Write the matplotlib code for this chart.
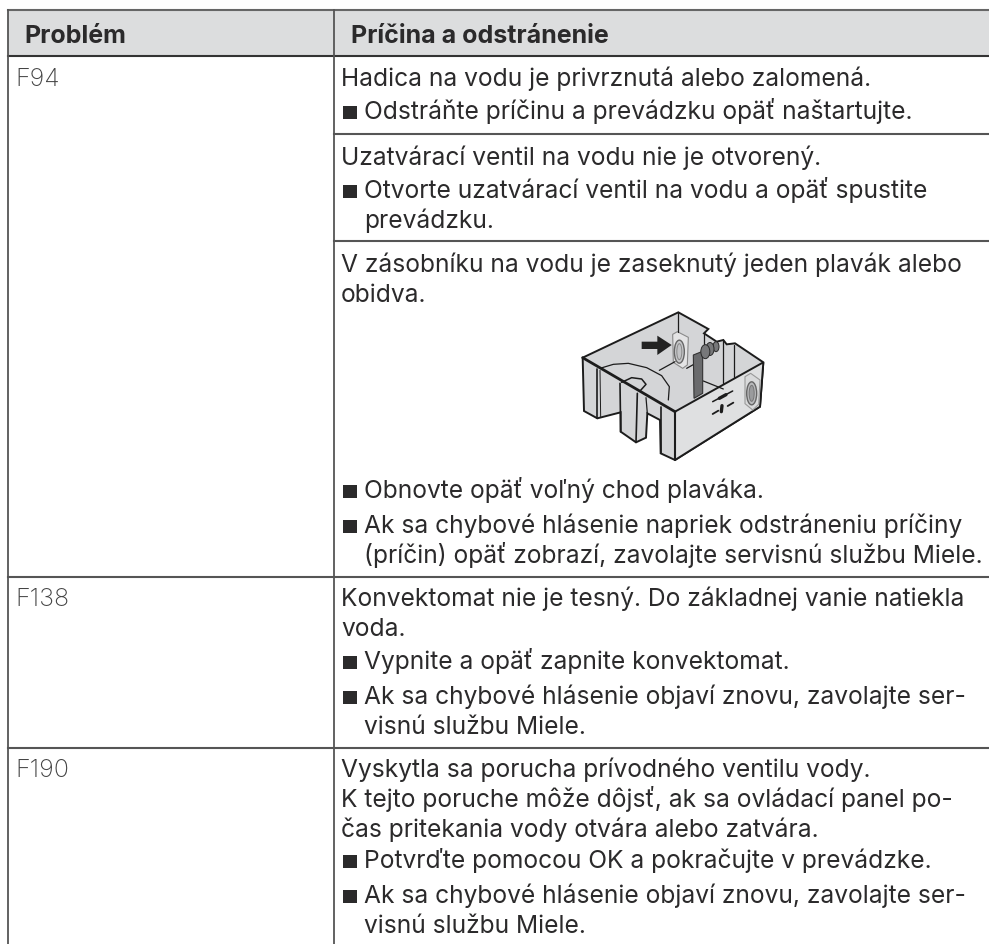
import matplotlib
matplotlib.use('Agg')
import matplotlib.pyplot as plt
from matplotlib.patches import Polygon, Rectangle, Ellipse

plt.rcParams['font.family'] = ['Inter', 'DejaVu Sans']

# table content
headers = ['Problém', 'Príčina a odstránenie']
codes = ['F94', 'F138', 'F190']
row_lines = [134, 241, 577, 748]

cell_baselines = [86, 119, 165, 198, 228, 272, 302, 498, 533, 563,
                  606, 636, 669, 704, 734, 777, 807, 837, 868, 903, 933]
cell_bullets = [0, 1, 0, 1, 0, 0, 0, 1, 1, 0, 0, 0, 1, 1, 0, 0, 0, 0, 1, 1, 0]
cell_indent = [0, 1, 0, 1, 1, 0, 0, 1, 1, 1, 0, 0, 1, 1, 1, 0, 0, 0, 1, 1, 1]
cell_text = [
    'Hadica na vodu je privrznutá alebo zalomená.',
    'Odstráňte príčinu a prevádzku opäť naštartujte.',
    'Uzatvárací ventil na vodu nie je otvorený.',
    'Otvorte uzatvárací ventil na vodu a opäť spustite',
    'prevádzku.',
    'V zásobníku na vodu je zaseknutý jeden plavák alebo',
    'obidva.',
    'Obnovte opäť voľný chod plaváka.',
    'Ak sa chybové hlásenie napriek odstráneniu príčiny',
    '(príčin) opäť zobrazí, zavolajte servisnú službu Miele.',
    'Konvektomat nie je tesný. Do základnej vanie natiekla',
    'voda.',
    'Vypnite a opäť zapnite konvektomat.',
    'Ak sa chybové hlásenie objaví znovu, zavolajte ser-',
    'visnú službu Miele.',
    'Vyskytla sa porucha prívodného ventilu vody.',
    'K tejto poruche môže dôjsť, ak sa ovládací panel po-',
    'čas pritekania vody otvára alebo zatvára.',
    'Potvrďte pomocou OK a pokračujte v prevádzke.',
    'Ak sa chybové hlásenie objaví znovu, zavolajte ser-',
    'visnú službu Miele.',
]
code_baselines = [86, 606, 777]

fig = plt.figure(figsize=(9.89, 9.44), dpi=100)
ax = fig.add_axes([0, 0, 1, 1])
ax.set_xlim(0, 989)
ax.set_ylim(944, 0)
ax.axis('off')

ink = '#2b2a2b'
fs = 17.7

# header band and grid
ax.add_patch(Rectangle((8, 10), 981, 46, fc='#dcddde', ec='none', zorder=0))
ax.plot([8, 989], [10, 10], color='#666666', lw=1.5)
ax.plot([8, 989], [56, 56], color='#333333', lw=1.5)
ax.plot([8, 8], [10, 944], color='#555555', lw=1.3)
ax.plot([333.5, 333.5], [10, 944], color='#555555', lw=1.3)
for y in row_lines:
    x0 = 8 if y > 500 else 333.5
    ax.plot([x0, 989], [y, y], color='#555555', lw=1.5)

ax.text(24, 43, headers[0], fontsize=18, fontweight='bold', color=ink, va='baseline')
ax.text(351, 43, headers[1], fontsize=18, fontweight='bold', color=ink, va='baseline')

for y, c in zip(code_baselines, codes):
    ax.text(15, y, c, fontsize=18, fontweight='light', color='#444444', va='baseline')

for y, b, ind, t in zip(cell_baselines, cell_bullets, cell_indent, cell_text):
    if b:
        ax.add_patch(Rectangle((343, y - 13.5), 14, 13.5, fc=ink, ec='none'))
    ax.text(364 if ind else 341, y, t, fontsize=fs, color=ink, va='baseline')


# water tank drawing, traced in a 3x crop at (560, 305)
def z(pts):
    return [(560 + a / 3, 305 + b / 3) for a, b in pts]


def line(pts, lw=1.0, color='#1c1c1c', zo=5):
    p = z(pts)
    ax.plot([q[0] for q in p], [q[1] for q in p], color=color, lw=lw, zorder=zo,
            solid_capstyle='round', solid_joinstyle='round')


outline = [(68, 158), (355, 22), (445, 72), (432, 85), (470, 110), (490, 105),
           (500, 118), (525, 115), (610, 172), (600, 305), (345, 465), (302, 445),
           (300, 345), (262, 325), (258, 398), (228, 412), (182, 380), (182, 322),
           (112, 340), (72, 318)]
ax.add_patch(Polygon(z(outline), closed=True, fc='#d4d5d7', ec='#1c1c1c', lw=1.4, zorder=2))
right_wall = [(345, 320), (610, 172), (600, 305), (345, 465)]
ax.add_patch(Polygon(z(right_wall), closed=True, fc='#dfe0e1', ec='#1c1c1c', lw=1.4, zorder=3))

line([(68, 158), (345, 320)], lw=2.0)
line([(112, 192), (112, 340)], lw=1.2)
line([(120, 196), (122, 335)], lw=0.7)
line([(180, 235), (182, 380)], lw=1.2)
line([(232, 265), (228, 412)], lw=1.2)
line([(258, 278), (262, 325)], lw=0.9)
line([(302, 305), (302, 445)], lw=1.2)
line([(345, 320), (345, 465)], lw=1.5)
line([(120, 190), (160, 178), (205, 175), (260, 188), (305, 212), (328, 245), (325, 285)], lw=0.9)
line([(185, 232), (215, 218), (245, 222), (258, 238), (240, 258)], lw=1.1)
line([(298, 196), (345, 170)], lw=0.9)
line([(355, 22), (355, 80)], lw=0.9)
line([(380, 190), (405, 176)], lw=0.9)
line([(430, 228), (490, 252)], lw=0.9)
line([(490, 105), (490, 235)], lw=0.9)
line([(522, 120), (522, 215)], lw=0.9)
line([(432, 85), (432, 130)], lw=0.9)
line([(458, 290), (518, 258)], lw=1.1)
line([(478, 280), (498, 269)], lw=2.4)
line([(458, 327), (475, 317)], lw=1.3)
line([(503, 303), (520, 293)], lw=1.3)
line([(486, 302), (484, 320)], lw=2.4)

# float, near the arrow
float_a = [(338, 88), (352, 80), (385, 97), (382, 180), (368, 190), (340, 172)]
ax.add_patch(Polygon(z(float_a), closed=True, fc='#e4e4e5', ec='#8a8a8a', lw=0.8, zorder=4))
cx, cy = z([(358, 140)])[0]
ax.add_patch(Ellipse((cx, cy), 10, 23, fc='#c6c7c9', ec='#666666', lw=1.0, zorder=5))
ax.add_patch(Ellipse((cx, cy), 5, 16, fc='#c2c3c5', ec='#888888', lw=0.7, zorder=6))

# float on the right wall
float_b = [(555, 215), (572, 205), (600, 225), (596, 298), (578, 315), (555, 296)]
ax.add_patch(Polygon(z(float_b), closed=True, fc='#d9dadb', ec='#9a9a9a', lw=0.8, zorder=4))
cx, cy = z([(575, 265)])[0]
ax.add_patch(Ellipse((cx, cy), 10, 23, fc='#b9babc', ec='#666666', lw=1.0, zorder=5))
ax.add_patch(Ellipse((cx, cy), 5, 16, fc='#9a9b9d', ec='#777777', lw=0.7, zorder=6))

# lever and roller
lever = [(400, 150), (425, 140), (428, 160), (428, 265), (402, 280)]
ax.add_patch(Polygon(z(lever), closed=True, fc='#6a6b6d', ec='#333333', lw=0.8, zorder=6))
for (a, b), w, h in zip([(468, 125), (450, 132), (436, 140)], [6, 8, 9], [10, 13, 14]):
    cx, cy = z([(a, b)])[0]
    ax.add_patch(Ellipse((cx, cy), w, h, fc='#77787a', ec='#2b2b2b', lw=0.7, zorder=7))

# arrow
arrow = [(245, 110), (292, 110), (292, 92), (335, 120), (292, 150), (292, 132), (245, 132)]
ax.add_patch(Polygon(z(arrow), closed=True, fc='#222222', ec='none', zorder=8))

plt.savefig('out.png', dpi=100)
